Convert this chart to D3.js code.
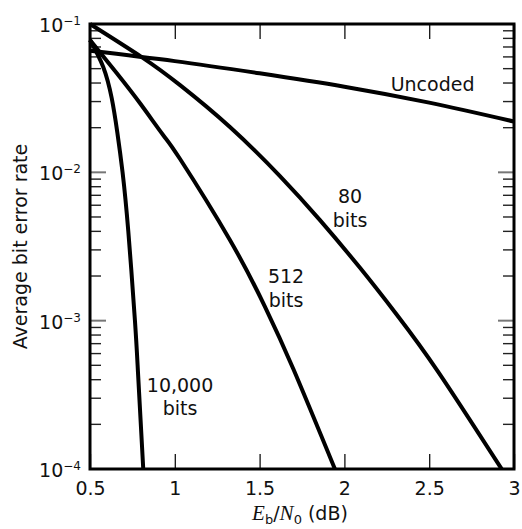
<!DOCTYPE html>
<html>
<head>
<meta charset="utf-8">
<script src="https://cdn.jsdelivr.net/npm/d3@7"></script>
<style>
body { margin: 0; background: #fff; }
text { font-family: "DejaVu Sans", sans-serif; fill: #111; }
</style>
</head>
<body>
<svg id="chart" width="522" height="529"></svg>
<script>
// values
var xTicks = [0.5, 1, 1.5, 2, 2.5, 3];
var yDecades = [1e-4, 1e-3, 1e-2, 1e-1];
var yExponents = ["\u22124", "\u22123", "\u22122", "\u22121"];

var uncodedX = [0.5, 1, 1.5, 2, 2.5, 3];
var uncodedY = [0.066, 0.0562, 0.0465, 0.0378, 0.0295, 0.022];

var bits80X = [0.5, 0.805, 1.031, 1.325, 1.62, 1.856, 2.092, 2.308, 2.554, 2.927];
var bits80Y = [0.1, 0.0598, 0.0387, 0.0202, 9.43e-3, 4.76e-3, 2.27e-3, 1.10e-3, 4.5e-4, 1e-4];

var bits512X = [0.5, 0.657, 0.795, 0.932, 1.031, 1.325, 1.532, 1.699, 1.944];
var bits512Y = [0.078, 0.0467, 0.0292, 0.0178, 0.0123, 3.5e-3, 1.24e-3, 4.72e-4, 1e-4];

var bits10kX = [0.5, 0.578, 0.628, 0.661, 0.692, 0.726, 0.765, 0.783, 0.814];
var bits10kY = [0.078, 0.0513, 0.0316, 0.0186, 0.01, 3.98e-3, 1e-3, 4.47e-4, 1e-4];

var curveNames = ["Uncoded", "80 bits", "512 bits", "10,000 bits"];

var svg = d3.select("#chart");
var margin = {top: 24, right: 8, bottom: 60, left: 90};
var width = 522 - margin.left - margin.right,
    height = 529 - margin.top - margin.bottom;

var x = d3.scaleLinear().domain([0.5, 3]).range([0, width]);
var y = d3.scaleLog().domain([1e-4, 1e-1]).range([height, 0]);

var g = svg.append("g").attr("transform", "translate(" + margin.left + "," + margin.top + ")");

// minor ticks 2..9 of every decade, inside on both sides
var minor = [];
yDecades.slice(0, 3).forEach(function (d) {
    for (var k = 2; k <= 9; k++) minor.push(d * k);
});

[["left", 0, 1], ["right", width, -1]].forEach(function (side) {
    g.selectAll(".minor-" + side[0]).data(minor).enter().append("line")
        .attr("class", "minor-" + side[0])
        .attr("x1", side[1]).attr("x2", side[1] + side[2] * 11)
        .attr("y1", function (d) { return y(d); })
        .attr("y2", function (d) { return y(d); })
        .attr("stroke", "#222").attr("stroke-width", 1.4);
    g.selectAll(".major-" + side[0]).data(yDecades.slice(1, 3)).enter().append("line")
        .attr("class", "major-" + side[0])
        .attr("x1", side[1]).attr("x2", side[1] + side[2] * 16)
        .attr("y1", function (d) { return y(d); })
        .attr("y2", function (d) { return y(d); })
        .attr("stroke", "#777").attr("stroke-width", 2);
});

// x axis, ticks pointing inward
var xAxis = g.append("g")
    .attr("transform", "translate(0," + height + ")")
    .call(d3.axisBottom(x).tickValues(xTicks).tickSize(-15).tickPadding(13)
        .tickFormat(function (d) { return d3.format("")(d); }));
xAxis.select(".domain").remove();
xAxis.selectAll("line").attr("stroke", "#111").attr("stroke-width", 1.3);
xAxis.selectAll("text").style("font-size", "19px").style("font-family", "DejaVu Sans").attr("fill", "#111");

var xTop = g.append("g")
    .call(d3.axisTop(x).tickValues(xTicks).tickSize(-15).tickFormat(""));
xTop.select(".domain").remove();
xTop.selectAll("line").attr("stroke", "#111").attr("stroke-width", 1.3);

// y labels 10^n
var yl = g.selectAll(".ylbl").data(yDecades).enter().append("text")
    .attr("class", "ylbl")
    .attr("x", -9)
    .attr("y", function (d) { return y(d) + 8; })
    .attr("text-anchor", "end")
    .style("font-size", "19px");
yl.append("tspan").text("10");
yl.append("tspan")
    .attr("dy", -7)
    .style("font-size", "12px")
    .text(function (d, i) { return yExponents[i]; });

// frame
g.append("rect")
    .attr("width", width).attr("height", height)
    .attr("fill", "none").attr("stroke", "#000").attr("stroke-width", 3);

// curves
var line = d3.line()
    .x(function (d) { return x(d[0]); })
    .y(function (d) { return y(d[1]); })
    .curve(d3.curveNatural);

var series = [
    d3.zip(uncodedX, uncodedY),
    d3.zip(bits80X, bits80Y),
    d3.zip(bits512X, bits512Y),
    d3.zip(bits10kX, bits10kY)
];

g.selectAll(".curve").data(series).enter().append("path")
    .attr("class", "curve")
    .attr("d", line)
    .attr("fill", "none")
    .attr("stroke", "#000")
    .attr("stroke-width", 4)
    .attr("stroke-linejoin", "round");

// curve labels (anchor = baseline of first line, in data units)
var labelAt = [[2.52, 0.0353], [2.033, 6.2e-3], [1.656, 1.79e-3], [1.031, 3.32e-4]];
var lbl = g.selectAll(".clbl").data(curveNames).enter().append("text")
    .attr("class", "clbl")
    .attr("text-anchor", "middle")
    .style("font-size", "19px");
lbl.each(function (name, i) {
    var t = d3.select(this);
    var parts = name === "Uncoded" ? [name] : name.split(" ");
    parts.forEach(function (p, j) {
        t.append("tspan")
            .attr("x", x(labelAt[i][0]))
            .attr("y", y(labelAt[i][1]) + j * 23.5)
            .text(p);
    });
});

// axis titles
svg.append("text")
    .attr("transform", "translate(27," + (margin.top + height / 2) + ") rotate(-90)")
    .attr("text-anchor", "middle")
    .style("font-size", "19px")
    .text("Average bit error rate");

var xt = svg.append("text")
    .attr("x", margin.left + width / 2 - 2)
    .attr("y", 520)
    .attr("text-anchor", "middle")
    .style("font-size", "19px");
xt.append("tspan").style("font-family", "Liberation Serif").style("font-style", "italic").style("font-size", "21px").text("E");
xt.append("tspan").attr("dy", 4).style("font-size", "13px").text("b");
xt.append("tspan").attr("dy", -4).text("/");
xt.append("tspan").style("font-family", "Liberation Serif").style("font-style", "italic").style("font-size", "21px").text("N");
xt.append("tspan").attr("dy", 4).style("font-size", "13px").text("0");
xt.append("tspan").attr("dy", -4).text(" (dB)");
</script>
</body>
</html>
